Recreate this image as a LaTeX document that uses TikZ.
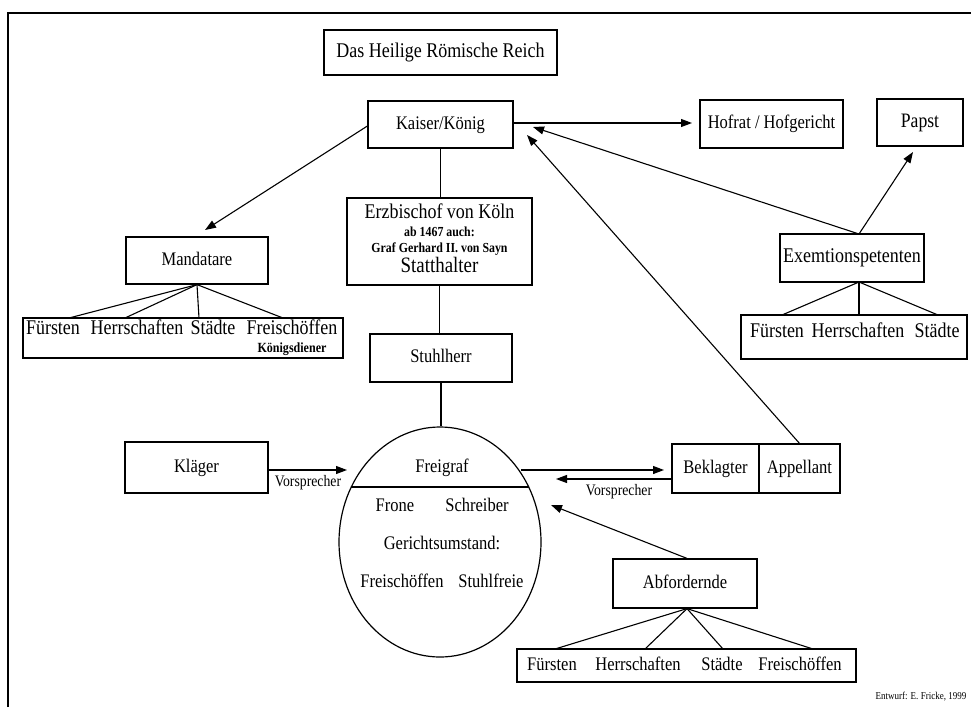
\documentclass[tikz,border=0pt]{standalone}
\usepackage{fontspec}
\setmainfont{Liberation Serif}[FakeStretch=0.86]
\usetikzlibrary{arrows.meta,shapes.geometric}
\begin{document}
\begin{tikzpicture}[x=1pt,y=-1pt,
  box/.style={draw, line width=1.2pt, inner sep=0pt, font=\fontsize{19.2}{21}\selectfont, text height=12.5pt, text depth=3.5pt},
  lbl/.style={inner sep=0pt, font=\fontsize{19.2}{21}\selectfont, text height=12.5pt, text depth=3.5pt},
  lblbig/.style={inner sep=0pt, font=\fontsize{20.9}{23}\selectfont, text height=13.5pt, text depth=4pt},
  lblsmall/.style={inner sep=0pt, font=\fontsize{16}{18}\selectfont, text height=10.5pt, text depth=3pt},
  lblbold/.style={inner sep=0pt, font=\fontsize{13.8}{16}\selectfont\bfseries, text height=9.5pt, text depth=3pt},
  conn/.style={line width=1.1pt},
  arr/.style={line width=1.1pt, -{Triangle[length=11pt,width=8pt]}},
]
\useasboundingbox (0,0) rectangle (971,707);
\fill[white] (0,0) rectangle (971,707);
% frame
\draw[line width=1.8pt] (8,707) -- (8,13) -- (971,13);

% top title
\node[box, minimum width=233pt, minimum height=45pt, font=\fontsize{20.9}{23}\selectfont] (reich) at (440.5,52.5) {Das Heilige Römische Reich};

% top row
\node[box, minimum width=145pt, minimum height=47pt] (kaiser) at (440.5,124.5) {Kaiser/König};
\node[box, minimum width=143pt, minimum height=48pt] (hofrat) at (771.5,124) {Hofrat / Hofgericht};
\node[box, minimum width=86pt, minimum height=47pt, font=\fontsize{20.5}{23}\selectfont] (papst) at (920,122.5) {Papst};

% Mandatare
\node[box, minimum width=142pt, minimum height=47pt] (mand) at (197,260.5) {Mandatare};
\node[box, minimum width=320pt, minimum height=40pt] (mlist) at (183,338) {};
\node[lblbig] (mw1) at (53,330) {Fürsten};
\node[lblbig] (mw2) at (137,330) {Herrschaften};
\node[lblbig] (mw3) at (213,330) {Städte};
\node[lblbig] (mw4) at (292,330) {Freischöffen};
\node[inner sep=0pt, font=\fontsize{14}{16}\selectfont\bfseries] (mw5) at (292,349) {Königsdiener};
\coordinate (mf1) at (69,318);
\coordinate (mf2) at (125,318);
\coordinate (mf3) at (199,318);
\coordinate (mf4) at (283,318);
\foreach \t in {mf1,mf2,mf3,mf4} \draw[conn] (mand.south) -- (\t);

% Erzbischof
\node[box, minimum width=185pt, minimum height=87pt] (erzb) at (439.5,241.5) {};
\node[lblbig] (erzb1) at (439.5,214) {Erzbischof von Köln};
\node[lblbold] (erzb2) at (439.5,233) {ab 1467 auch:};
\node[lblbold] (erzb3) at (439.5,249) {Graf Gerhard II. von Sayn};
\node[lblbig, font=\fontsize{22}{24}\selectfont] (erzb4) at (439.5,268) {Statthalter};

% Stuhlherr
\node[box, minimum width=142pt, minimum height=48pt] (stuhl) at (441,358) {Stuhlherr};

% court
\node[draw, ellipse, line width=1.2pt, minimum width=202pt, minimum height=230pt, inner sep=0pt] (court) at (440,542) {};
\coordinate (cl) at (351.4,487);
\coordinate (cr) at (528.6,487);
\draw[conn] (cl) -- (cr);
\node[lbl] (fg) at (442,468) {Freigraf};
\node[lbl] (fr) at (395,507) {Frone};
\node[lbl] (sc) at (477,507) {Schreiber};
\node[lbl] (gu) at (442,545) {Gerichtsumstand:};
\node[lbl] (fs) at (402,583) {Freischöffen};
\node[lbl] (sf) at (491,583) {Stuhlfreie};

% spine
\draw[conn] (kaiser.south) -- (kaiser.south |- erzb.north);
\draw[conn] (erzb.south) -- (erzb.south |- stuhl.north);
\draw[conn] (stuhl.south) -- (stuhl.south |- court.north);

% Klaeger
\node[box, minimum width=143pt, minimum height=51pt] (klaeger) at (196.5,467.5) {Kläger};
\coordinate (k2) at (347,470);
\draw[arr] ([yshift=-2.5pt]klaeger.east) -- (k2);
\node[lblsmall] (v1) at (308,483) {Vorsprecher};

% Beklagter / Appellant
\node[box, minimum width=87pt, minimum height=49pt] (bek) at (715.5,468.5) {Beklagter};
\node[box, minimum width=81pt, minimum height=49pt] (app) at (799.5,468.5) {Appellant};
\coordinate (c1) at (521,470);
\coordinate (b1) at (664,470);
\draw[arr] (c1) -- (b1);
\coordinate (c2) at (556,479);
\draw[arr] (bek.west |- c2) -- (c2);
\node[lblsmall] (v2) at (619,492) {Vorsprecher};

% Exemtionspetenten
\node[box, minimum width=144pt, minimum height=48pt, font=\fontsize{20.9}{23}\selectfont] (exem) at (852,258) {Exemtionspetenten};
\coordinate (eapex) at (859,234);
\coordinate (ebot) at (859,282);
\node[box, minimum width=226pt, minimum height=44pt] (elist) at (854,337) {};
\node[lblbig] (ew1) at (777,333) {Fürsten};
\node[lblbig] (ew2) at (858,333) {Herrschaften};
\node[lblbig] (ew3) at (937,333) {Städte};
\coordinate (ef1) at (782,315);
\coordinate (ef2) at (859,315);
\coordinate (ef3) at (938,315);
\foreach \t in {ef1,ef2,ef3} \draw[conn] (ebot) -- (\t);

% arrows to Kaiser, Papst, Hofrat, Mandatare
\coordinate (k3) at (527,135);
\draw[arr] (app.north) -- (k3);
\coordinate (k4) at (533,127);
\draw[arr] (eapex) -- (k4);
\coordinate (p1) at (913,152);
\draw[arr] (eapex) -- (p1);
\coordinate (h0) at (692,123);
\draw[arr] ([yshift=1.5pt]kaiser.east) -- (h0);
\coordinate (m0) at (205,230);
\draw[arr] ([yshift=-1.5pt]kaiser.west) -- (m0);

% Abfordernde
\node[box, minimum width=144pt, minimum height=49pt] (abf) at (685,583.5) {Abfordernde};
\coordinate (c3) at (551,505);
\draw[arr] ([xshift=2pt]abf.north) -- (c3);
\node[box, minimum width=339pt, minimum height=33pt] (alist) at (686.5,665.5) {};
\node[lbl] (aw1) at (552,666) {Fürsten};
\node[lbl] (aw2) at (638,666) {Herrschaften};
\node[lbl] (aw3) at (722,666) {Städte};
\node[lbl] (aw4) at (800,666) {Freischöffen};
\coordinate (af1) at (555,649);
\coordinate (af2) at (645,649);
\coordinate (af3) at (723,649);
\coordinate (af4) at (813,649);
\foreach \t in {af1,af2,af3,af4} \draw[conn] ([xshift=2pt]abf.south) -- (\t);

% footer
\node[inner sep=0pt, font=\fontsize{10.5}{12}\selectfont] (entw) at (921,697) {Entwurf: E. Fricke, 1999};
\end{tikzpicture}
\end{document}
